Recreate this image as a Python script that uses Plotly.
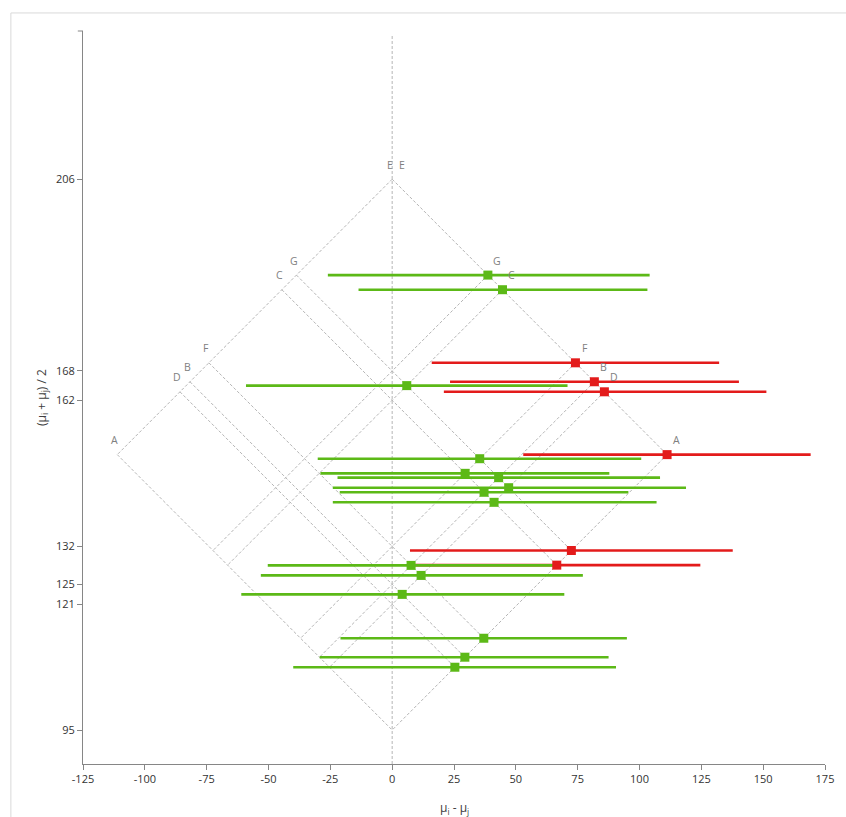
import plotly.graph_objects as go

# ---- data ----
groups = ["A", "B", "C", "D", "E", "F", "G"]
group_means = [95.25, 124.65, 161.8, 120.6, 206.4, 132.3, 167.7]

pair_i = ["E", "E", "E", "E", "E", "G", "E", "G", "C", "G", "G", "C", "C", "G", "C", "F", "F", "B", "F", "B", "D"]
pair_j = ["G", "C", "F", "B", "D", "C", "A", "F", "F", "B", "D", "B", "D", "A", "A", "B", "D", "D", "A", "A", "A"]
ci_low = [-26.0, -13.6, 16.0, 23.4, 20.9, -59.1, 53.0, -30.1, -29.0, -22.1, -24.0, -21.2, -24.0, 7.2, 8.5, -50.3, -53.1, -61.0, -20.9, -29.3, -40.0]
ci_high = [104.1, 103.2, 132.2, 140.2, 151.3, 70.9, 169.2, 100.7, 87.8, 108.3, 118.8, 95.5, 106.9, 137.7, 124.6, 65.6, 77.1, 69.6, 94.9, 87.5, 90.5]

x_ticks = [-125, -100, -75, -50, -25, 0, 25, 50, 75, 100, 125, 150, 175]
x_tick_labels = ["-125", "-100", "-75", "-50", "-25", "0", "25", "50", "75", "100", "125", "150", "175"]

GREEN = "#5cb917"
RED = "#e31b1b"
GRID = "#b5b5b5"
AXIS = "#868686"

mean_of = dict(zip(groups, group_means))
mmax = max(group_means)
mmin = min(group_means)

fig = go.Figure()

# diamond / grid lines
lx, ly = [], []
for g in groups:
    m = mean_of[g]
    lx += [m - mmax, m - mmin, None, mmax - m, mmin - m, None]
    ly += [(m + mmax) / 2, (m + mmin) / 2, None, (m + mmax) / 2, (m + mmin) / 2, None]
fig.add_trace(go.Scatter(x=lx, y=ly, mode="lines", line=dict(color=GRID, width=1, dash="3px,2px"),
                         hoverinfo="skip", showlegend=False))

# comparisons
d = [mean_of[a] - mean_of[b] for a, b in zip(pair_i, pair_j)]
s = [(mean_of[a] + mean_of[b]) / 2 for a, b in zip(pair_i, pair_j)]
sig = [lo > 0 or hi < 0 for lo, hi in zip(ci_low, ci_high)]

def subset(flag):
    idx = [k for k in range(len(d)) if sig[k] == flag]
    return ([d[k] for k in idx], [s[k] for k in idx],
            [ci_high[k] - d[k] for k in idx], [d[k] - ci_low[k] for k in idx],
            [f"{pair_i[k]}-{pair_j[k]}" for k in idx])

for flag, col in [(True, RED), (False, GREEN)]:
    x, y, plus, minus, names = subset(flag)
    fig.add_trace(go.Scatter(x=x, y=y, mode="markers", marker=dict(size=1, color=col, opacity=0),
                             error_x=dict(type="data", symmetric=False, array=plus, arrayminus=minus,
                                          color=col, thickness=2.6, width=0),
                             hoverinfo="skip", showlegend=False))
for flag, col in [(True, RED), (False, GREEN)]:
    x, y, plus, minus, names = subset(flag)
    fig.add_trace(go.Scatter(x=x, y=y, mode="markers", text=names,
                             marker=dict(symbol="square", size=9, color=col, line=dict(width=0)),
                             showlegend=False))

# group labels at the top ends of the grid lines
ann = []
for g in groups:
    m = mean_of[g]
    yy = (m + mmax) / 2
    ann.append(dict(x=m - mmax, y=yy, text=g, showarrow=False, xshift=-2.5, yshift=14.5,
                    xanchor="center", yanchor="middle", font=dict(size=10.5, color="#808080")))
    ann.append(dict(x=mmax - m, y=yy, text=g, showarrow=False, xshift=9.5, yshift=14.5,
                    xanchor="center", yanchor="middle", font=dict(size=10.5, color="#808080")))

ann.append(dict(xref="paper", yref="paper", x=-0.056, y=0.5, textangle=-90, showarrow=False,
                xanchor="center", yanchor="middle",
                text="(μ<sub>i</sub> + μ<sub>j</sub>) / 2", font=dict(size=12, color="#404040")))
ann.append(dict(xref="paper", yref="paper", x=0.5, y=-0.06, showarrow=False,
                xanchor="center", yanchor="middle",
                text="μ<sub>i</sub> - μ<sub>j</sub>", font=dict(size=12, color="#404040")))

shapes = [
    dict(type="line", xref="x", yref="paper", x0=0, x1=0, y0=0, y1=0.995,
         line=dict(color=GRID, width=1, dash="3px,2px"), layer="below"),
    dict(type="line", xref="paper", yref="paper", x0=-0.007, x1=0, y0=1, y1=1,
         line=dict(color=AXIS, width=1)),
    dict(type="line", xref="paper", yref="paper", x0=-0.0972, x1=1.1, y0=1.0246, y1=1.0246,
         line=dict(color="#d9d9d9", width=1)),
    dict(type="line", xref="paper", yref="paper", x0=-0.0972, x1=-0.0972, y0=-0.2, y1=1.0246,
         line=dict(color="#d9d9d9", width=1)),
]

fig.update_layout(
    width=846, height=817,
    margin=dict(l=83, r=12, t=31, b=53),
    paper_bgcolor="white", plot_bgcolor="white",
    font=dict(family="Open Sans, Noto Sans, sans-serif", size=11, color="#333333"),
    annotations=ann, shapes=shapes,
    xaxis=dict(range=[-125, 175], tickvals=x_ticks, ticktext=x_tick_labels, showgrid=False, zeroline=False,
               showline=True, linecolor=AXIS, linewidth=1, ticks="outside", ticklen=5,
               tickcolor=AXIS, tickfont=dict(size=11, color="#333333")),
    yaxis=dict(range=[88.4, 236.3], tickvals=sorted(group_means), tickformat=".0f",
               showgrid=False, zeroline=False, showline=True, linecolor=AXIS, linewidth=1,
               ticks="outside", ticklen=5, tickcolor=AXIS, tickfont=dict(size=11, color="#333333")),
)

# remove the default page margin so the figure fills the window exactly
fig.write_html("out.html", config={"displayModeBar": False},
               post_script="document.body.style.margin='0';document.body.style.overflow='hidden';")
